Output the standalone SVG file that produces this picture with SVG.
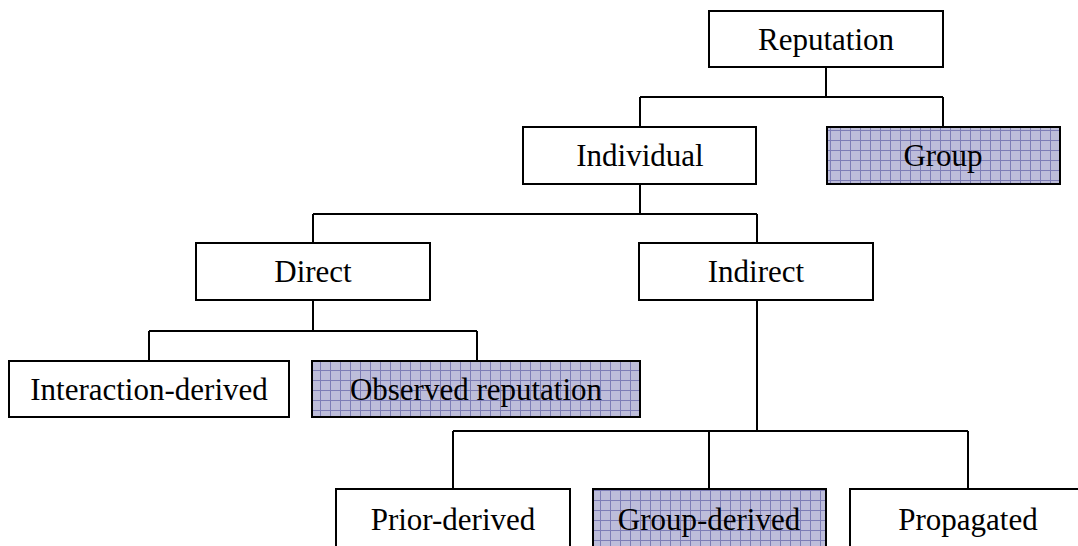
<svg xmlns="http://www.w3.org/2000/svg" width="1078" height="546" viewBox="0 0 1078 546">
<style>
.box{fill:#fff;stroke:#000;stroke-width:2}
.hat{fill:url(#grid);stroke:#000;stroke-width:2}
.lbl{font-family:"Liberation Serif","Times New Roman",serif;font-size:31px;fill:#000;text-anchor:middle}
.con{fill:none;stroke:#000;stroke-width:2}
</style>
<defs>
<pattern id="grid" patternUnits="userSpaceOnUse" width="10" height="10">
<rect width="10" height="10" fill="#bdbdda"/>
<path d="M0 0.5H10M0.5 0V10" stroke="#7d7db6" stroke-width="1"/>
</pattern>
</defs>
<rect width="1078" height="546" fill="#fff"/>
<g id="connectors">
<path class="con" d="M826 67V97M640 97H943M640 97V127M943 97V127"/>
<path class="con" d="M640 184V214M313 214H757M313 214V243M757 214V243"/>
<path class="con" d="M313 300V331M149 331H477M149 331V361M477 331V361"/>
<path class="con" d="M757 300V431M453 431H968M453 431V489M709 431V489M968 431V489"/>
</g>
<g id="reputation"><rect class="box" x="709" y="11" width="234" height="56"/><text class="lbl" x="826" y="50">Reputation</text></g>
<g id="individual"><rect class="box" x="523" y="127" width="233" height="57"/><text class="lbl" x="640" y="166">Individual</text></g>
<g id="group"><rect class="hat" x="827" y="127" width="233" height="57"/><text class="lbl" x="943" y="166">Group</text></g>
<g id="direct"><rect class="box" x="196" y="243" width="234" height="57"/><text class="lbl" x="313" y="282">Direct</text></g>
<g id="indirect"><rect class="box" x="639" y="243" width="234" height="57"/><text class="lbl" x="756" y="282">Indirect</text></g>
<g id="interaction-derived"><rect class="box" x="9" y="361" width="280" height="56"/><text class="lbl" x="149" y="400">Interaction-derived</text></g>
<g id="observed-reputation"><rect class="hat" x="312" y="361" width="328" height="56"/><text class="lbl" x="476" y="400">Observed reputation</text></g>
<g id="prior-derived"><rect class="box" x="336" y="489" width="234" height="70"/><text class="lbl" x="453" y="530">Prior-derived</text></g>
<g id="group-derived"><rect class="hat" x="593" y="489" width="233" height="70"/><text class="lbl" x="709" y="530">Group-derived</text></g>
<g id="propagated"><rect class="box" x="850" y="489" width="236" height="70"/><text class="lbl" x="968" y="530">Propagated</text></g>
</svg>
